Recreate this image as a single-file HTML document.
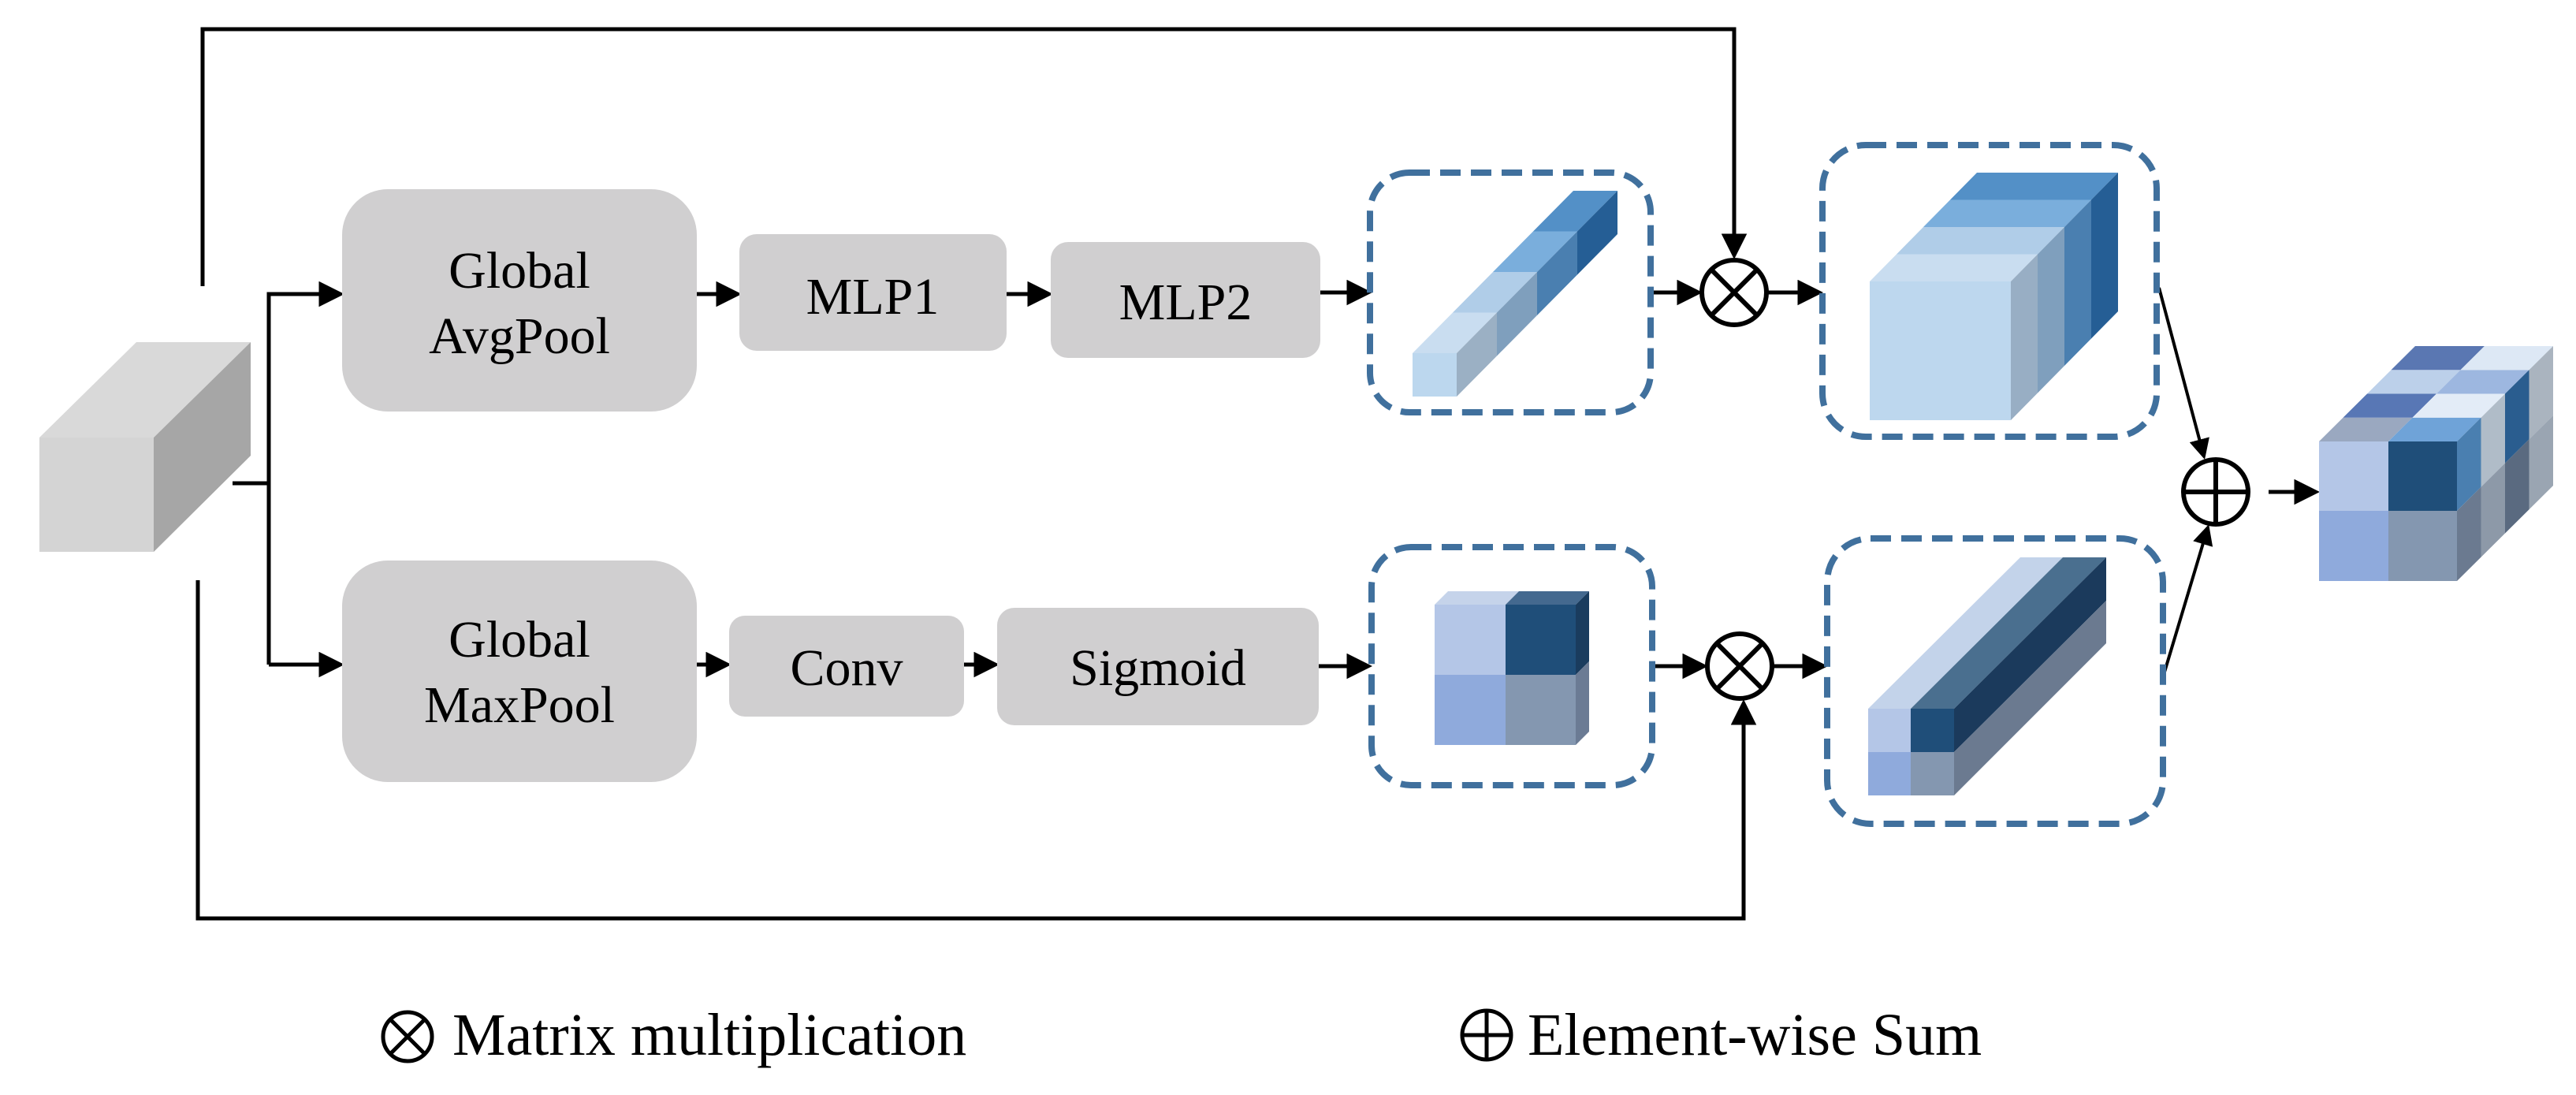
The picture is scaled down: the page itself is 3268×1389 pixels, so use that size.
<!DOCTYPE html>
<html><head><meta charset="utf-8"><style>
html,body{margin:0;padding:0;background:#fff}
svg{display:block}
text{font-family:"Liberation Serif",serif;fill:#000}
</style></head><body>
<svg width="3268" height="1389" viewBox="0 0 3268 1389" xmlns="http://www.w3.org/2000/svg">
<defs>
<marker id="ah" markerWidth="6.5" markerHeight="6.5" refX="5.5" refY="3.25" orient="auto" markerUnits="strokeWidth">
<path d="M0,0 L6.5,3.25 L0,6.5 Z" fill="#000"/>
</marker>
</defs>
<g stroke="#000" stroke-width="5" fill="none">
<path d="M257 363 V37 H2200 V324" marker-end="url(#ah)"/>
<path d="M251 736 V1165 H2212 V892" marker-end="url(#ah)"/>
<path d="M295 613 H341"/>
<path d="M341 843 V373 H432" marker-end="url(#ah)"/>
<path d="M341 843 H432" marker-end="url(#ah)"/>
<path d="M884 373 H936" marker-end="url(#ah)"/>
<path d="M1277 373 H1331" marker-end="url(#ah)"/>
<path d="M1675 371 H1736" marker-end="url(#ah)"/>
<path d="M2094 371 H2155" marker-end="url(#ah)"/>
<path d="M2243 371 H2308" marker-end="url(#ah)"/>
<path d="M884 843 H923" marker-end="url(#ah)"/>
<path d="M1223 843 H1263" marker-end="url(#ah)"/>
<path d="M1673 845 H1736" marker-end="url(#ah)"/>
<path d="M2096 845 H2162" marker-end="url(#ah)"/>
<path d="M2250 845 H2314" marker-end="url(#ah)"/>
<path d="M2739 365 L2796 579" stroke-width="4" marker-end="url(#ah)"/>
<path d="M2744 859 L2801 669" stroke-width="4" marker-end="url(#ah)"/>
<path d="M2878 624 H2938" marker-end="url(#ah)"/>
</g>

<polygon points="50,555 195,555 195,700 50,700" fill="#d4d4d4"/>
<polygon points="50,555 173,434 318,434 195,555" fill="#d9d9d9"/>
<polygon points="195,555 318,434 318,578 195,700" fill="#a6a6a6"/>

<g fill="#d0cfd0">
<rect x="434" y="240" width="450" height="282" rx="58"/>
<rect x="434" y="711" width="450" height="281" rx="58"/>
<rect x="938" y="297" width="339" height="148" rx="22"/>
<rect x="1333" y="307" width="342" height="147" rx="22"/>
<rect x="925" y="781" width="298" height="128" rx="20"/>
<rect x="1265" y="771" width="408" height="149" rx="22"/>
</g>
<g font-size="66" text-anchor="middle">
<text x="659" y="365">Global</text>
<text x="659" y="448">AvgPool</text>
<text x="659" y="833">Global</text>
<text x="659" y="916">MaxPool</text>
<text x="1107" y="398">MLP1</text>
<text x="1504" y="405">MLP2</text>
<text x="1074" y="869">Conv</text>
<text x="1469" y="869">Sigmoid</text>
</g>

<g fill="none" stroke="#40709d" stroke-width="8" stroke-dasharray="26 13">
<rect x="1738" y="219" width="356" height="304" rx="50"/>
<rect x="2312" y="184" width="424" height="370" rx="55"/>
<rect x="1740" y="694" width="356" height="302" rx="50"/>
<rect x="2318" y="683" width="426" height="362" rx="55"/>
</g>

<rect x="1792" y="448" width="56" height="55" fill="#bcd7ee"/>
<polygon points="1792,448 1848,448 1899,396.5 1843,396.5" fill="#c9ddf0"/>
<polygon points="1843,396.5 1899,396.5 1950,345 1894,345" fill="#b0cde8"/>
<polygon points="1894,345 1950,345 2001,293.5 1945,293.5" fill="#7aaedc"/>
<polygon points="1945,293.5 2001,293.5 2052,242 1996,242" fill="#5390c7"/>
<polygon points="1848,448 1899,396.5 1899,451.5 1848,503" fill="#9bb0c4"/>
<polygon points="1899,396.5 1950,345 1950,400 1899,451.5" fill="#7f9fbd"/>
<polygon points="1950,345 2001,293.5 2001,348.5 1950,400" fill="#4a7fb0"/>
<polygon points="2001,293.5 2052,242 2052,297 2001,348.5" fill="#255e95"/>

<rect x="2372" y="357" width="179" height="176" fill="#bdd7ee"/>
<polygon points="2372,357 2551,357 2585,322.5 2406,322.5" fill="#c9ddf0"/>
<polygon points="2406,322.5 2585,322.5 2619,288 2440,288" fill="#b0cde8"/>
<polygon points="2440,288 2619,288 2653,253.5 2474,253.5" fill="#7aaedc"/>
<polygon points="2474,253.5 2653,253.5 2687,219 2508,219" fill="#5390c7"/>
<polygon points="2551,357 2585,322.5 2585,498.5 2551,533" fill="#98aec4"/>
<polygon points="2585,322.5 2619,288 2619,464 2585,498.5" fill="#7f9fbd"/>
<polygon points="2619,288 2653,253.5 2653,429.5 2619,464" fill="#4a7fb0"/>
<polygon points="2653,253.5 2687,219 2687,395 2653,429.5" fill="#255e95"/>

<rect x="1820" y="767" width="90" height="89" fill="#b4c6e7"/>
<rect x="1910" y="767" width="89" height="89" fill="#1f4e79"/>
<rect x="1820" y="856" width="90" height="89" fill="#8faadc"/>
<rect x="1910" y="856" width="89" height="89" fill="#8497b0"/>
<polygon points="1820,767 1910,767 1927,750 1837,750" fill="#c5d3ea"/>
<polygon points="1910,767 1999,767 2016,750 1927,750" fill="#44698f"/>
<polygon points="1999,767 2016,750 2016,839 1999,856" fill="#1a3c5e"/>
<polygon points="1999,856 2016,839 2016,928 1999,945" fill="#6b7b94"/>

<rect x="2370" y="899" width="54" height="55" fill="#b4c6e7"/>
<rect x="2424" y="899" width="55" height="55" fill="#1f4e79"/>
<rect x="2370" y="954" width="54" height="55" fill="#8faadc"/>
<rect x="2424" y="954" width="55" height="55" fill="#8497b0"/>
<polygon points="2370,899 2424,899 2617,707 2563,707" fill="#c3d3ea"/>
<polygon points="2424,899 2479,899 2672,707 2617,707" fill="#4a6f8f"/>
<polygon points="2479,899 2672,707 2672,762 2479,954" fill="#1b3a5c"/>
<polygon points="2479,954 2672,762 2672,816 2479,1009" fill="#6b7a90"/>

<rect x="2942" y="560" width="88" height="88" fill="#b4c6e7"/>
<rect x="3030" y="560" width="87" height="88" fill="#1f4e79"/>
<rect x="2942" y="648" width="88" height="89" fill="#8faadc"/>
<rect x="3030" y="648" width="87" height="89" fill="#8497b0"/>
<polygon points="2942,560 3030,560 3060.5,529.75 2972.5,529.75" fill="#9aa8c0"/>
<polygon points="3030,560 3117,560 3147.5,529.75 3060.5,529.75" fill="#6fa3d8"/>
<polygon points="2972.5,529.75 3060.5,529.75 3091,499.5 3003,499.5" fill="#5877b5"/>
<polygon points="3060.5,529.75 3147.5,529.75 3178,499.5 3091,499.5" fill="#e3ecf7"/>
<polygon points="3003,499.5 3091,499.5 3121.5,469.25 3033.5,469.25" fill="#bcd0ea"/>
<polygon points="3091,499.5 3178,499.5 3208.5,469.25 3121.5,469.25" fill="#9db7e0"/>
<polygon points="3033.5,469.25 3121.5,469.25 3152,439 3064,439" fill="#5a77b2"/>
<polygon points="3121.5,469.25 3208.5,469.25 3239,439 3152,439" fill="#dde8f5"/>
<polygon points="3117,560 3147.5,529.75 3147.5,617.75 3117,648" fill="#4a7fb0"/>
<polygon points="3117,648 3147.5,617.75 3147.5,706.75 3117,737" fill="#6b7a90"/>
<polygon points="3147.5,529.75 3178,499.5 3178,587.5 3147.5,617.75" fill="#b0bcc8"/>
<polygon points="3147.5,617.75 3178,587.5 3178,676.5 3147.5,706.75" fill="#8d99a8"/>
<polygon points="3178,499.5 3208.5,469.25 3208.5,557.25 3178,587.5" fill="#2a5d8f"/>
<polygon points="3178,587.5 3208.5,557.25 3208.5,646.25 3178,676.5" fill="#5a6a80"/>
<polygon points="3208.5,469.25 3239,439 3239,527 3208.5,557.25" fill="#aab4bf"/>
<polygon points="3208.5,557.25 3239,527 3239,616 3208.5,646.25" fill="#9aa5b2"/>

<g fill="none" stroke="#000" stroke-width="6">
<circle cx="2200" cy="371" r="41"/>
<path d="M2171 342 L2229 400 M2229 342 L2171 400"/>
<circle cx="2207" cy="845" r="41"/>
<path d="M2178 816 L2236 874 M2236 816 L2178 874"/>
<circle cx="2811" cy="624" r="41"/>
<path d="M2770 624 H2852 M2811 583 V665"/>
<circle cx="517" cy="1315" r="31" stroke-width="5"/>
<path d="M495 1293 L539 1337 M539 1293 L495 1337" stroke-width="5"/>
<circle cx="1886" cy="1313" r="31" stroke-width="5"/>
<path d="M1855 1313 H1917 M1886 1282 V1344" stroke-width="5"/>
</g>
<g font-size="76">
<text x="574" y="1338">Matrix multiplication</text>
<text x="1938" y="1338">Element-wise Sum</text>
</g>
</svg>
</body></html>
